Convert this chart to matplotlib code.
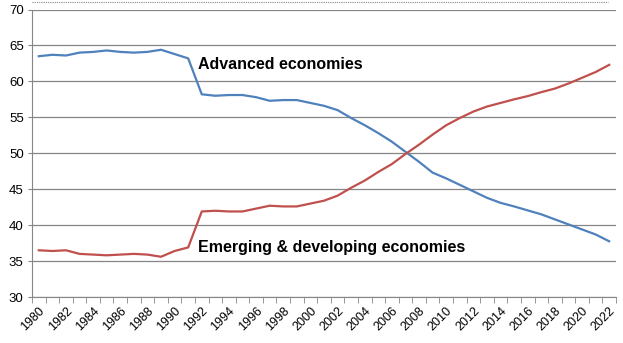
import numpy as np
import matplotlib
matplotlib.use("Agg")
import matplotlib.pyplot as plt
from matplotlib.lines import Line2D

plt.rcParams['font.family'] = ['Liberation Sans', 'DejaVu Sans']

years = list(range(1980, 2023))
advanced = [63.5, 63.7, 63.6, 64.0, 64.1, 64.3, 64.1, 64.0, 64.1, 64.4, 63.8, 63.2,
            58.2, 58.0, 58.1, 58.1, 57.8, 57.3, 57.4, 57.4, 57.0, 56.6, 56.0, 54.9,
            53.9, 52.8, 51.6, 50.2, 48.8, 47.3, 46.5, 45.6, 44.7, 43.8, 43.1, 42.6,
            42.05, 41.5, 40.8, 40.1, 39.4, 38.7, 37.75]
emerging = [36.5, 36.4, 36.5, 36.0, 35.9, 35.8, 35.9, 36.0, 35.9, 35.6, 36.4, 36.9,
            41.9, 42.0, 41.9, 41.9, 42.3, 42.7, 42.6, 42.6, 43.0, 43.4, 44.1, 45.2,
            46.2, 47.4, 48.5, 49.9, 51.2, 52.6, 53.9, 54.9, 55.8, 56.5, 57.0, 57.5,
            57.95, 58.5, 59.0, 59.7, 60.5, 61.3, 62.3]

fig = plt.figure(figsize=(6.23, 3.43), dpi=100)
ax = fig.add_axes([32 / 623, (343 - 297) / 343, (616 - 32) / 623, (297 - 9.5) / 343])

x = np.arange(len(years))
ax.plot(x, advanced, color='#4F81BD', lw=1.6)
ax.plot(x, emerging, color='#C0504D', lw=1.6)

ax.set_xlim(-0.5, len(years) - 0.5)
ax.set_ylim(30, 70)
ax.set_yticks(range(30, 71, 5))
ax.yaxis.grid(True, color='#868686', lw=0.9)
ax.set_axisbelow(True)

ax.set_xticks(x[::2])
ax.set_xticklabels([str(y) for y in years[::2]], rotation=45, ha='right',
                   rotation_mode='anchor', fontsize=9)
ax.set_xticks(np.arange(-0.5, len(years)), minor=True)
ax.tick_params(axis='x', which='major', length=0, pad=6)
ax.tick_params(axis='x', which='minor', length=4, color='#868686')
ax.tick_params(axis='y', length=3, color='#868686', labelsize=9.5, pad=3)

for side in ['top', 'right']:
    ax.spines[side].set_visible(False)
for side in ['left', 'bottom']:
    ax.spines[side].set_color('#868686')

ax.text(11.7, 62.3, 'Advanced economies', fontsize=11.5, fontweight='bold', va='center')
ax.text(11.7, 36.9, 'Emerging & developing economies', fontsize=11.5, fontweight='bold',
        va='center')

fig.add_artist(Line2D([32 / 623, 608 / 623], [1 - 1.5 / 343] * 2, color='#888888',
                      lw=0.8, ls=(0, (1, 1))))

fig.savefig('out.png', dpi=100)
